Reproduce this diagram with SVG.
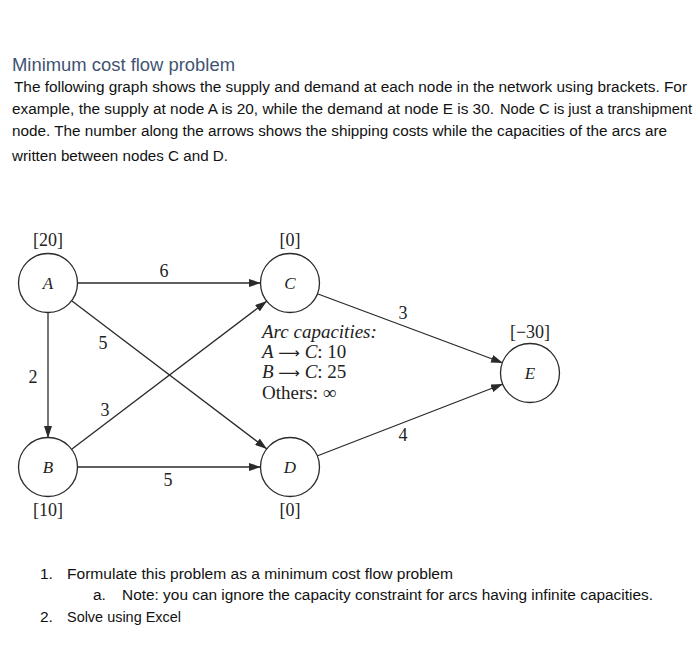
<svg xmlns="http://www.w3.org/2000/svg" width="700" height="671" viewBox="0 0 700 671">
<defs>
<marker id="arr" viewBox="0 0 12 8" refX="12" refY="4" markerWidth="12" markerHeight="8" markerUnits="userSpaceOnUse" orient="auto">
<path d="M0,0 L12,4 L0,8 Z" fill="#2a2a2a"/>
</marker>
<style>
.body{font-family:"Liberation Sans","Open Sans",sans-serif;font-size:15.5px;fill:#111}
.title{font-family:"Liberation Sans","Open Sans",sans-serif;font-size:18px;fill:#3f5472}
.num{font-family:"Liberation Serif","DejaVu Serif",serif;font-size:18px;fill:#222;text-anchor:middle}
.lbl{font-family:"Liberation Serif","DejaVu Serif",serif;font-size:17px;font-style:italic;fill:#222;text-anchor:middle}
.cap{font-family:"Liberation Serif","DejaVu Serif",serif;font-size:19px;fill:#222}
.ar{font-family:"DejaVu Sans",sans-serif;font-size:15px}
.node{fill:#fff;stroke:#2a2a2a;stroke-width:1.3}
.edge{stroke:#2a2a2a;stroke-width:1.3;fill:none;marker-end:url(#arr)}
</style>
</defs>
<rect width="700" height="671" fill="#fff"/>

<g id="text-top">
<text class="title" x="12" y="71" textLength="223" lengthAdjust="spacingAndGlyphs">Minimum cost flow problem</text>
<text class="body" x="14" y="92" textLength="673" lengthAdjust="spacingAndGlyphs">The following graph shows the supply and demand at each node in the network using brackets. For</text>
<text class="body" x="12" y="114" textLength="482" lengthAdjust="spacingAndGlyphs">example, the supply at node A is 20, while the demand at node E is 30.</text>
<text class="body" x="500" y="114" style="font-size:14px" textLength="192" lengthAdjust="spacingAndGlyphs">Node C is just a transhipment</text>
<text class="body" x="12" y="136" textLength="655" lengthAdjust="spacingAndGlyphs">node. The number along the arrows shows the shipping costs while the capacities of the arcs are</text>
<text class="body" x="12" y="161" textLength="216" lengthAdjust="spacingAndGlyphs">written between nodes C and D.</text>
</g>

<g id="connectors">
<line class="edge" x1="78" y1="283" x2="261" y2="283"/>
<line class="edge" x1="48" y1="313" x2="48" y2="438"/>
<line class="edge" x1="72" y1="301" x2="267" y2="449"/>
<line class="edge" x1="72" y1="449" x2="267" y2="301"/>
<line class="edge" x1="78" y1="467" x2="261" y2="467"/>
<line class="edge" x1="318" y1="294" x2="503" y2="363"/>
<line class="edge" x1="317" y1="456" x2="503" y2="384"/>
<text class="num" x="164" y="277">6</text>
<text class="num" x="103" y="349">5</text>
<text class="num" x="33" y="383">2</text>
<text class="num" x="105" y="416">3</text>
<text class="num" x="168" y="486">5</text>
<text class="num" x="403" y="319">3</text>
<text class="num" x="403" y="441">4</text>
</g>

<g id="node-A">
<circle class="node" cx="48" cy="283" r="29.5"/>
<text class="lbl" x="48" y="289">A</text>
<text class="num" x="48" y="246">[20]</text>
</g>
<g id="node-B">
<circle class="node" cx="48" cy="467" r="29.5"/>
<text class="lbl" x="48" y="473">B</text>
<text class="num" x="48" y="516">[10]</text>
</g>
<g id="node-C">
<circle class="node" cx="290" cy="283" r="29.5"/>
<text class="lbl" x="290" y="289">C</text>
<text class="num" x="290" y="246">[0]</text>
</g>
<g id="node-D">
<circle class="node" cx="290" cy="467" r="29.5"/>
<text class="lbl" x="290" y="473">D</text>
<text class="num" x="290" y="516">[0]</text>
</g>
<g id="node-E">
<circle class="node" cx="530" cy="373" r="29.5"/>
<text class="lbl" x="530" y="379">E</text>
<text class="num" x="530" y="338">[−30]</text>
</g>

<g id="capacities">
<text class="cap" x="262" y="338" font-style="italic">Arc capacities:</text>
<text class="cap" x="262" y="358"><tspan font-style="italic">A</tspan> <tspan class="ar">⟶</tspan> <tspan font-style="italic">C</tspan>: 10</text>
<text class="cap" x="262" y="378"><tspan font-style="italic">B</tspan> <tspan class="ar">⟶</tspan> <tspan font-style="italic">C</tspan>: 25</text>
<text class="cap" x="262" y="399">Others: ∞</text>
</g>

<g id="text-bottom">
<text class="body" x="40" y="579">1.</text>
<text class="body" x="67" y="579" textLength="386" lengthAdjust="spacingAndGlyphs">Formulate this problem as a minimum cost flow problem</text>
<text class="body" x="93" y="600">a.</text>
<text class="body" x="122" y="600" textLength="531" lengthAdjust="spacingAndGlyphs">Note: you can ignore the capacity constraint for arcs having infinite capacities.</text>
<text class="body" x="40" y="622">2.</text>
<text class="body" x="67" y="622" textLength="114" lengthAdjust="spacingAndGlyphs">Solve using Excel</text>
</g>
</svg>
